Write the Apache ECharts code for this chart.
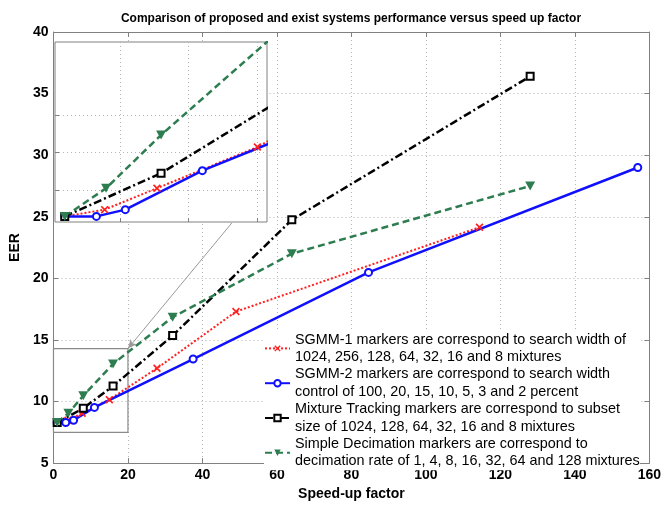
<!DOCTYPE html>
<html><head><meta charset="utf-8">
<script src="https://cdn.jsdelivr.net/npm/echarts@6/dist/echarts.min.js"></script>
<style>
html,body{margin:0;padding:0;background:#fff}
#main{position:absolute;left:0;top:0;width:664px;height:506px}
#inset{position:absolute;left:54px;top:41px;width:214px;height:182px}
</style></head><body>
<div id="main"></div><div id="inset"></div>
<script>
// ---- data ----
const sgmm1X = [1, 3.9, 7.7, 15.0, 27.8, 49.0, 114.4];
const sgmm1Y = [8.3, 8.48, 9.05, 10.15, 12.7, 17.3, 24.15];
const sgmm2X = [1, 3.3, 5.4, 11.0, 37.5, 84.6, 156.9];
const sgmm2Y = [8.3, 8.3, 8.48, 9.52, 13.45, 20.48, 29.0];
const mtX = [1, 8, 16, 32, 64, 128];
const mtY = [8.3, 9.45, 11.25, 15.35, 24.75, 36.4];
const sdX = [1, 4, 8, 16, 32, 64, 128];
const sdY = [8.3, 9.05, 10.47, 13.05, 16.85, 22.0, 27.5];

const names = [
  'SGMM-1 markers are correspond to search width of\n1024, 256, 128, 64, 32, 16 and 8 mixtures',
  'SGMM-2 markers are correspond to search width\ncontrol of 100, 20, 15, 10, 5, 3 and 2 percent',
  'Mixture Tracking markers are correspond to subset\nsize of 1024, 128, 64, 32, 16 and 8 mixtures',
  'Simple Decimation markers are correspond to\ndecimation rate of 1, 4, 8, 16, 32, 64 and 128 mixtures'
];
const xRange = [0, 160, 20];
const yRange = [5, 40, 5];
// zoom box shown in main plot and the inset ranges
const zoomBox = [[0, 7.5], [20, 14.3]];
const arrowLine = [[52, 26.0], [20, 14.3]];
const insetX = [0.29, 15.7];
const insetY = [8.15, 12.95];
const insetXTicks = [5, 10, 15];
const insetYTicks = [9, 10, 11];

const pair = (xs, ys) => xs.map((x, i) => [x, ys[i]]);
const crossPath = 'path://M0,1.5L1.5,0L5,3.5L8.5,0L10,1.5L6.5,5L10,8.5L8.5,10L5,6.5L1.5,10L0,8.5L3.5,5Z';
const triDown = 'path://M0,0L10,0L5,8.66Z';

function makeSeries() {
  return [
    {name: names[0], type: 'line', data: pair(sgmm1X, sgmm1Y), symbol: crossPath, symbolSize: 8,
     itemStyle: {color: '#ff2020'}, lineStyle: {color: '#ff2020', width: 2, type: [2, 2]}},
    {name: names[1], type: 'line', data: pair(sgmm2X, sgmm2Y), symbol: 'emptyCircle', symbolSize: 7,
     itemStyle: {color: '#1010ff', borderWidth: 2}, lineStyle: {color: '#1010ff', width: 2.5, type: 'solid'}},
    {name: names[2], type: 'line', data: pair(mtX, mtY), symbol: 'emptyRect', symbolSize: 7,
     itemStyle: {color: '#000', borderWidth: 2}, lineStyle: {color: '#000', width: 2.5, type: [8, 3, 2, 3]}},
    {name: names[3], type: 'line', data: pair(sdX, sdY), symbol: triDown, symbolSize: [10, 9],
     itemStyle: {color: '#2e7d50'}, lineStyle: {color: '#2e7d50', width: 2.5, type: [7, 4]}}
  ];
}

const tickFont = {fontFamily: "'Liberation Sans Narrow','Arial Narrow','Liberation Sans',sans-serif", fontWeight: 'bold', fontSize: 14, color: '#000'};
const axisGray = '#808080';
const gridLine = {color: '#b4b4b4', width: 1, type: [1, 3]};

const mainSeries = makeSeries();
mainSeries[3].markArea = {silent: true, itemStyle: {color: 'rgba(0,0,0,0)', borderColor: '#8a8a8a', borderWidth: 1.2},
  label: {show: false}, data: [[{coord: zoomBox[0]}, {coord: zoomBox[1]}]]};
mainSeries[3].markLine = {silent: true, symbol: ['none', 'arrow'], symbolSize: [6, 9],
  lineStyle: {color: '#999', width: 1, type: 'solid'}, label: {show: false},
  data: [[{coord: arrowLine[0]}, {coord: arrowLine[1]}]]};

const main = echarts.init(document.getElementById('main'));
main.setOption({
  animation: false,
  backgroundColor: '#fff',
  title: {text: 'Comparison of proposed and exist systems performance versus speed up factor',
    left: 346, textAlign: 'center', top: 8,
    textStyle: {fontFamily: tickFont.fontFamily, fontWeight: 'bold', fontSize: 12, color: '#000'}},
  grid: {left: 43, right: 11, top: 32, bottom: 33},
  legend: {orient: 'vertical', left: 264, top: 331, itemGap: 0, itemWidth: 25, itemHeight: 8,
    padding: 0, backgroundColor: '#fff', z: 3,
    textStyle: {fontFamily: "'Liberation Sans',Arial,sans-serif", fontSize: 14.4, lineHeight: 17.4, color: '#000'},
    data: names},
  xAxis: [
    {type: 'value', min: xRange[0], max: xRange[1], interval: xRange[2], position: 'bottom',
     name: 'Speed-up factor', nameLocation: 'middle', nameGap: 21, nameTextStyle: tickFont,
     axisLine: {show: true, onZero: false, lineStyle: {color: axisGray}},
     axisTick: {inside: true, length: 5, lineStyle: {color: axisGray}},
     axisLabel: Object.assign({margin: 5}, tickFont),
     splitLine: {show: true, lineStyle: gridLine}},
    {type: 'value', min: xRange[0], max: xRange[1], interval: xRange[2], position: 'top', z: 10,
     axisLine: {show: true, onZero: false, lineStyle: {color: axisGray}},
     axisTick: {inside: true, length: 5, lineStyle: {color: axisGray}},
     axisLabel: {show: false}, splitLine: {show: false}}
  ],
  yAxis: [
    {type: 'value', min: yRange[0], max: yRange[1], interval: yRange[2], position: 'left',
     name: 'EER', nameLocation: 'middle', nameGap: 28, nameRotate: 90, nameTextStyle: tickFont,
     axisLine: {show: true, onZero: false, lineStyle: {color: axisGray}},
     axisTick: {inside: true, length: 5, lineStyle: {color: axisGray}},
     axisLabel: Object.assign({margin: 5}, tickFont),
     splitLine: {show: true, lineStyle: gridLine}},
    {type: 'value', min: yRange[0], max: yRange[1], interval: yRange[2], position: 'right', z: 10,
     axisLine: {show: true, onZero: false, lineStyle: {color: axisGray}},
     axisTick: {inside: true, length: 5, lineStyle: {color: axisGray}},
     axisLabel: {show: false}, splitLine: {show: false}}
  ],
  series: mainSeries
});

// ---- inset ----
const insetSeries = makeSeries();
const inset = echarts.init(document.getElementById('inset'));
function insetAxis(range, ticks, pos) {
  return {type: 'value', min: range[0], max: range[1], position: pos,
    axisLine: {show: false},
    axisTick: {show: true, inside: true, length: 4, customValues: ticks, lineStyle: {color: axisGray}},
    axisLabel: {show: false, customValues: ticks},
    splitLine: {show: true, lineStyle: gridLine}};
}
inset.setOption({
  animation: false,
  backgroundColor: '#fff',
  grid: {left: 1, right: 1, top: 1, bottom: 1, show: true, borderColor: axisGray, borderWidth: 1, backgroundColor: '#fff'},
  xAxis: insetAxis(insetX, insetXTicks, 'bottom'),
  yAxis: insetAxis(insetY, insetYTicks, 'left'),
  series: insetSeries
});
</script>
</body></html>
